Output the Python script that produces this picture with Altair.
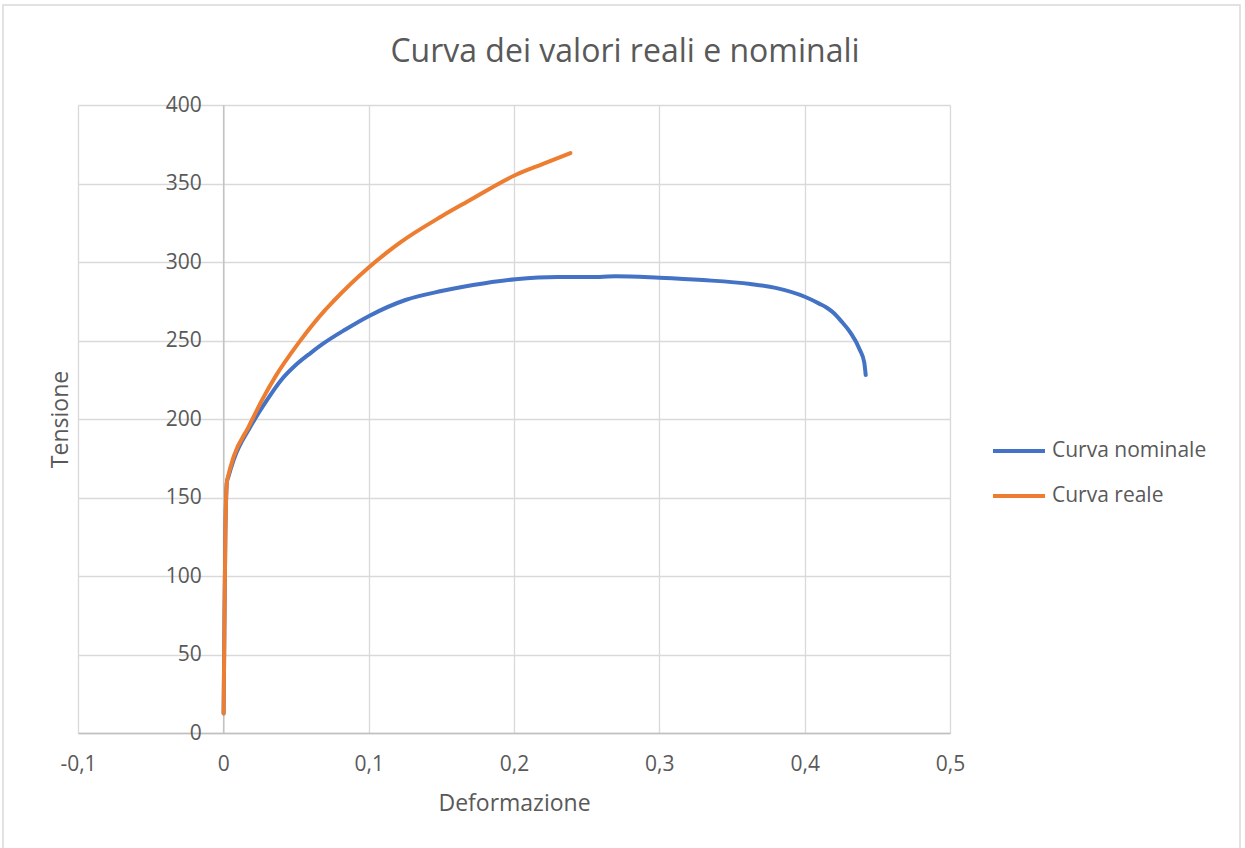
import altair as alt
import pandas as pd

# Engineering (nominal) stress-strain curve
nominal_strain = [0.0002, 0.0007, 0.0014, 0.0025, 0.0034, 0.0071, 0.0186, 0.03,
                  0.04, 0.05, 0.06, 0.0679, 0.084, 0.1, 0.1253, 0.15, 0.18,
                  0.201, 0.23, 0.259, 0.27, 0.3, 0.33, 0.3627, 0.38, 0.4005,
                  0.41, 0.415, 0.42, 0.425, 0.4315, 0.438, 0.441, 0.442]
nominal_stress = [12.5, 64, 127, 160, 163, 174, 195, 212, 225, 234.5, 242, 247.5,
                  257, 265.5, 275.8, 281.5, 286.5, 289, 290.5, 290.5, 291, 290,
                  288.5, 286, 283.5, 277.7, 273.5, 271, 267.5, 262.5, 255, 244,
                  236, 228]

# True (real) stress-strain curve
real_strain = [0.0002, 0.0007, 0.0014, 0.0025, 0.0034, 0.0071, 0.0174, 0.0266,
               0.0358, 0.0518, 0.070, 0.0757, 0.1, 0.116, 0.1218, 0.15, 0.168,
               0.201, 0.22, 0.2388]
real_stress = [12.5, 64, 127, 160, 164, 176, 195, 212, 227, 248.5, 269.4, 275,
               296.5, 308.5, 312.5, 329, 338.5, 355.4, 362.5, 369.4]

series_names = ["Curva nominale", "Curva reale"]
series_colors = ["#4472C4", "#ED7D31"]
x_ticks = [-0.1, 0, 0.1, 0.2, 0.3, 0.4, 0.5]
y_ticks = [0, 50, 100, 150, 200, 250, 300, 350, 400]
chart_title = "Curva dei valori reali e nominali"

nominal = pd.DataFrame({"strain": nominal_strain, "stress": nominal_stress,
                        "serie": series_names[0], "ord": range(len(nominal_strain))})
real = pd.DataFrame({"strain": real_strain, "stress": real_stress,
                     "serie": series_names[1], "ord": range(len(real_strain))})

FONT = "Open Sans"
TEXT = "#595959"
W, H = 872, 628
zero_offset = -W * 0.1 / 0.6  # vertical axis crosses at x = 0

x_enc = alt.X(
    "strain:Q",
    scale=alt.Scale(domain=[-0.1, 0.5], nice=False, zero=False),
    axis=alt.Axis(
        values=x_ticks,
        title="Deformazione",
        labelExpr="replace(replace(format(datum.value, '.1~f'), '.', ','), '\u2212', '-')",
        labelBaseline="middle",
        labelPadding=31,
        labelFlush=False,
        titleX=W / 2,
        titleY=70,
        titleBaseline="middle",
    ),
)
y_enc = alt.Y(
    "stress:Q",
    scale=alt.Scale(domain=[0, 400], nice=False),
    axis=alt.Axis(
        values=y_ticks,
        title="Tensione",
        offset=zero_offset,
        labelPadding=22,
        labelFlush=False,
        titleX=-163,
        titleY=H / 2,
        titleAngle=-90,
        titleAlign="center",
        titleBaseline="middle",
    ),
)
color_enc = alt.Color(
    "serie:N",
    scale=alt.Scale(domain=series_names, range=series_colors),
    legend=alt.Legend(
        title=None,
        orient="none",
        legendX=913,
        legendY=318,
        symbolType="stroke",
        symbolSize=2704,
        symbolStrokeWidth=4,
        labelOffset=5,
        rowPadding=7,
    ),
)

def curve(df):
    return alt.Chart(df).mark_line(
        strokeWidth=4, strokeCap="round", strokeJoin="round", interpolate="monotone"
    ).encode(x=x_enc, y=y_enc, color=color_enc, order="ord:Q")

one_row = pd.DataFrame({"f": [0]})

# thin frame around the whole chart area
frame = alt.Chart(one_row).mark_rect(
    fill="white", fillOpacity=0, stroke="#d9d9d9", strokeWidth=1.5
).encode(x=alt.value(-75), x2=alt.value(1162), y=alt.value(-100), y2=alt.value(760))

# chart heading, centred on the whole chart area
heading = alt.Chart(one_row).mark_text(
    text=chart_title, font=FONT, fontSize=32, color=TEXT,
    align="center", baseline="alphabetic",
).encode(x=alt.value(547), y=alt.value(-43))

chart = (
    alt.layer(frame, heading, curve(nominal), curve(real))
    .properties(
        width=W,
        height=H,
        autosize=alt.AutoSizeParams(type="none"),
        padding={"left": 78, "top": 105, "right": 295, "bottom": 115},
    )
    .configure(background="white")
    .configure_view(stroke=None)
    .configure_axis(
        labelFont=FONT,
        titleFont=FONT,
        labelFontSize=21,
        titleFontSize=23,
        labelColor=TEXT,
        titleColor=TEXT,
        titleFontWeight="normal",
        gridColor="#d9d9d9",
        gridWidth=1.3,
        domainColor="#bfbfbf",
        domainWidth=1.3,
        ticks=False,
    )
    .configure_legend(labelFont=FONT, labelFontSize=21, labelColor=TEXT)
)

chart.save("out.html", embed_options={"renderer": "svg", "actions": False})
